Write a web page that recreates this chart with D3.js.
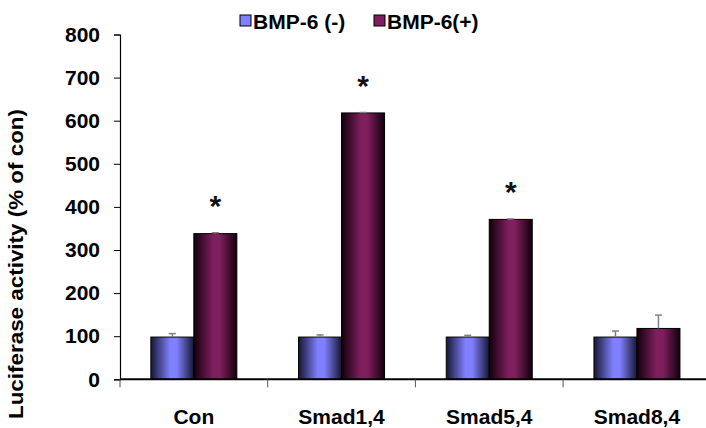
<!DOCTYPE html>
<html>
<head>
<meta charset="utf-8">
<script src="https://cdn.jsdelivr.net/npm/d3@7"></script>
<style>
  html, body { margin: 0; padding: 0; background: #fff; }
  svg { display: block; font-family: "Liberation Sans", Arial, sans-serif; }
</style>
</head>
<body>
<svg id="chart" width="706" height="428"></svg>
<script>
// Luciferase reporter activity, BMP-6 untreated vs treated
const categories = ["Con", "Smad1,4", "Smad5,4", "Smad8,4"];
const seriesNames = ["BMP-6 (-)", "BMP-6(+)"];
const bmpMinus = [98, 98, 98, 98];
const bmpMinusErr = [8, 5, 4, 14];
const bmpPlus = [338, 618, 371, 118];
const bmpPlusErr = [2, 1, 1, 31];
const significant = [true, true, true, false];
const yTicks = [0, 100, 200, 300, 400, 500, 600, 700, 800];

const svg = d3.select("#chart");
const margin = { left: 120, top: 34.5, bottom: 379.3 };
const catWidth = 147.7;

const x0 = d3.scaleBand()
  .domain(categories)
  .range([margin.left, margin.left + catWidth * categories.length])
  .padding(0);
const x1 = d3.scaleBand()
  .domain(seriesNames)
  .range([0, 86])
  .padding(0);
const y = d3.scaleLinear().domain([0, 800]).range([margin.bottom, margin.top]);

// horizontal shading gradients for the bars
const defs = svg.append("defs");
function shade(id, edge, mid) {
  const g = defs.append("linearGradient").attr("id", id)
    .attr("x1", "0%").attr("x2", "100%").attr("y1", "0%").attr("y2", "0%");
  g.append("stop").attr("offset", "0%").attr("stop-color", edge);
  g.append("stop").attr("offset", "45%").attr("stop-color", mid);
  g.append("stop").attr("offset", "60%").attr("stop-color", mid);
  g.append("stop").attr("offset", "100%").attr("stop-color", edge);
}
shade("gBlue", "#161634", "#8080ff");
shade("gPurple", "#12000b", "#801f5e");
const fills = { "BMP-6 (-)": "url(#gBlue)", "BMP-6(+)": "url(#gPurple)" };
const flat = { "BMP-6 (-)": "#8080ff", "BMP-6(+)": "#7f1f5f" };

const rows = categories.map((c, i) => ({
  cat: c,
  sig: significant[i],
  bars: [
    { s: seriesNames[0], v: bmpMinus[i], e: bmpMinusErr[i] },
    { s: seriesNames[1], v: bmpPlus[i], e: bmpPlusErr[i] }
  ]
}));

const offset = (x0.bandwidth() - 86) / 2;

// Y axis
const yAxis = d3.axisLeft(y).tickValues(yTicks).tickSize(6).tickPadding(14);
const gy = svg.append("g").attr("transform", `translate(${margin.left},0)`).call(yAxis);
gy.select(".domain").attr("stroke", "#000").attr("stroke-width", 1.2);
gy.selectAll(".tick line").attr("stroke", "#000");
gy.selectAll(".tick text")
  .attr("font-size", 21).attr("font-weight", "bold").attr("fill", "#000")
  .attr("font-family", "'Liberation Sans', Arial, sans-serif");

// bars
const groups = svg.append("g").selectAll("g").data(rows).join("g")
  .attr("transform", d => `translate(${x0(d.cat) + offset},0)`);

groups.selectAll("rect").data(d => d.bars).join("rect")
  .attr("x", d => x1(d.s))
  .attr("width", x1.bandwidth())
  .attr("y", d => y(d.v))
  .attr("height", d => y(0) - y(d.v))
  .attr("fill", d => fills[d.s])
  .attr("stroke", "#000")
  .attr("stroke-width", 1);

// error bars (upper only)
const err = groups.selectAll("g.err").data(d => d.bars).join("g").attr("class", "err");
err.append("line")
  .attr("x1", d => x1(d.s) + x1.bandwidth() / 2)
  .attr("x2", d => x1(d.s) + x1.bandwidth() / 2)
  .attr("y1", d => y(d.v))
  .attr("y2", d => y(d.v + d.e))
  .attr("stroke", "#808080").attr("stroke-width", 1.5);
err.append("line")
  .attr("x1", d => x1(d.s) + x1.bandwidth() / 2 - 3.5)
  .attr("x2", d => x1(d.s) + x1.bandwidth() / 2 + 3.5)
  .attr("y1", d => y(d.v + d.e))
  .attr("y2", d => y(d.v + d.e))
  .attr("stroke", "#808080").attr("stroke-width", 1.5);

// significance marks above treated bars
groups.filter(d => d.sig).append("text")
  .attr("x", x1(seriesNames[1]) + x1.bandwidth() / 2)
  .attr("y", d => y(d.bars[1].v + d.bars[1].e) - 17)
  .attr("text-anchor", "middle")
  .attr("font-size", 30)
  .attr("font-weight", "bold")
  .attr("fill", "#111")
  .text("*");

// X axis
const xAxisY = y(0);
svg.append("line")
  .attr("x1", margin.left).attr("x2", 706)
  .attr("y1", xAxisY).attr("y2", xAxisY)
  .attr("stroke", "#000").attr("stroke-width", 2);
svg.append("g").selectAll("line")
  .data(categories)
  .join("line")
  .attr("x1", d => x0(d)).attr("x2", d => x0(d))
  .attr("y1", xAxisY).attr("y2", xAxisY + 8)
  .attr("stroke", "#555").attr("stroke-width", 1);
svg.append("g").selectAll("text")
  .data(categories)
  .join("text")
  .attr("x", d => x0(d) + x0.bandwidth() / 2)
  .attr("y", 424)
  .attr("text-anchor", "middle")
  .attr("font-size", 21).attr("font-weight", "bold").attr("fill", "#000")
  .text(d => d);

// Y title
svg.append("text")
  .attr("transform", "translate(23,264) rotate(-90)")
  .attr("text-anchor", "middle")
  .attr("font-size", 21).attr("font-weight", "bold").attr("fill", "#000")
  .attr("textLength", 310).attr("lengthAdjust", "spacingAndGlyphs")
  .text("Luciferase activity (% of con)");

// legend
const legendX = [240, 374];
const legend = svg.append("g").selectAll("g").data(seriesNames).join("g")
  .attr("transform", (d, i) => `translate(${legendX[i]},15)`);
legend.append("rect")
  .attr("width", 11).attr("height", 11)
  .attr("fill", d => flat[d]).attr("stroke", "#000").attr("stroke-width", 1);
legend.append("text")
  .attr("x", 13).attr("y", 14)
  .attr("font-size", 21).attr("font-weight", "bold").attr("fill", "#000")
  .text(d => d);
</script>
</body>
</html>
